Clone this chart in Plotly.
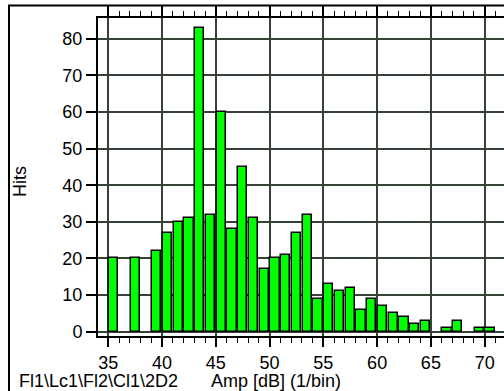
import plotly.graph_objects as go

# ---- data ----
bin_start = list(range(35, 71))          # Amp [dB], 1 dB bins
hits = [20, 0, 20, 0, 22, 27, 30, 31, 83, 32, 60, 28, 45, 31, 17, 20, 21, 27,
        32, 9, 13, 11, 12, 6, 9, 7, 5, 4, 2, 3, 0, 1, 3, 0, 1, 1]
x_ticks = [35, 40, 45, 50, 55, 60, 65, 70]
y_ticks = [0, 10, 20, 30, 40, 50, 60, 70, 80]
x_title = "Amp [dB] (1/bin)"
y_title = "Hits"
source_label = r"Fl1\Lc1\Fl2\Cl1\2D2"

W, H = 504, 391
ML, MR, MT, MB = 98, 0, 17.5, 55.3
pw = W - ML - MR
ph = H - MT - MB

def px2paper_x(px):
    return (px - ML) / pw

def px2paper_y(py):
    return (H - MB - py) / ph

FONT = "Liberation Sans, Arial, sans-serif"
GRID = "#364236"
xr = [34.04, 71.8]
yr = [-1.2, 85.7]

fig = go.Figure()
fig.add_trace(go.Bar(
    x=[b + 0.5 for b in bin_start],
    y=[v if v else None for v in hits],
    width=0.87,
    marker=dict(color="#00ff00", line=dict(color="black", width=1.5)),
    showlegend=False,
))
# helper trace so the top axis is drawn
fig.add_trace(go.Scatter(x=[None], y=[None], xaxis="x2", yaxis="y",
                         showlegend=False, hoverinfo="skip"))

fig.update_layout(
    width=W, height=H,
    margin=dict(l=ML, r=MR, t=MT, b=MB, pad=0),
    paper_bgcolor="white", plot_bgcolor="white",
    font=dict(family=FONT, size=18, color="black"),
    bargap=0,
    xaxis=dict(
        range=xr, tickvals=x_ticks, ticks="outside", ticklen=9, tickwidth=1.5,
        tickcolor="black", showline=True, linewidth=2, linecolor="black",
        showgrid=True, gridcolor=GRID, gridwidth=1.5, zeroline=False,
        minor=dict(dtick=1, tick0=35, ticks="outside", ticklen=5, tickwidth=1,
                   tickcolor="black", showgrid=False),
        tickfont=dict(size=18),
    ),
    xaxis2=dict(
        range=xr, overlaying="x", side="top", tickvals=x_ticks,
        ticks="outside", ticklen=10, tickwidth=1.5, tickcolor="black",
        showticklabels=False, showline=True, linewidth=2, linecolor="black",
        showgrid=False, zeroline=False,
        minor=dict(dtick=1, tick0=35, ticks="outside", ticklen=5, tickwidth=1,
                   tickcolor="black", showgrid=False),
    ),
    yaxis=dict(
        range=yr, tickvals=y_ticks, ticks="outside", ticklen=10, tickwidth=1.5,
        tickcolor="black", showline=True, linewidth=2, linecolor="black",
        showgrid=True, gridcolor=GRID, gridwidth=1.5, zeroline=False,
        tickfont=dict(size=18),
    ),
    shapes=[dict(type="rect", xref="paper", yref="paper",
                 x0=px2paper_x(9), x1=1.1, y0=-0.4, y1=px2paper_y(5),
                 line=dict(color="black", width=2), fillcolor="rgba(0,0,0,0)")],
    annotations=[
        dict(text=y_title, xref="paper", yref="paper", x=px2paper_x(20.5),
             y=px2paper_y(181), textangle=-90, showarrow=False,
             xanchor="center", yanchor="middle", font=dict(size=18)),
        dict(text=source_label, xref="paper", yref="paper", x=px2paper_x(17),
             y=px2paper_y(381), showarrow=False, xanchor="left",
             yanchor="middle", font=dict(size=18)),
        dict(text=x_title, xref="paper", yref="paper", x=px2paper_x(209),
             y=px2paper_y(381), showarrow=False, xanchor="left",
             yanchor="middle", font=dict(size=18)),
    ],
)

fig.write_html(
    "out.html",
    config={"displayModeBar": False},
    post_script="document.body.style.margin='0';document.body.style.overflow='hidden';",
)
